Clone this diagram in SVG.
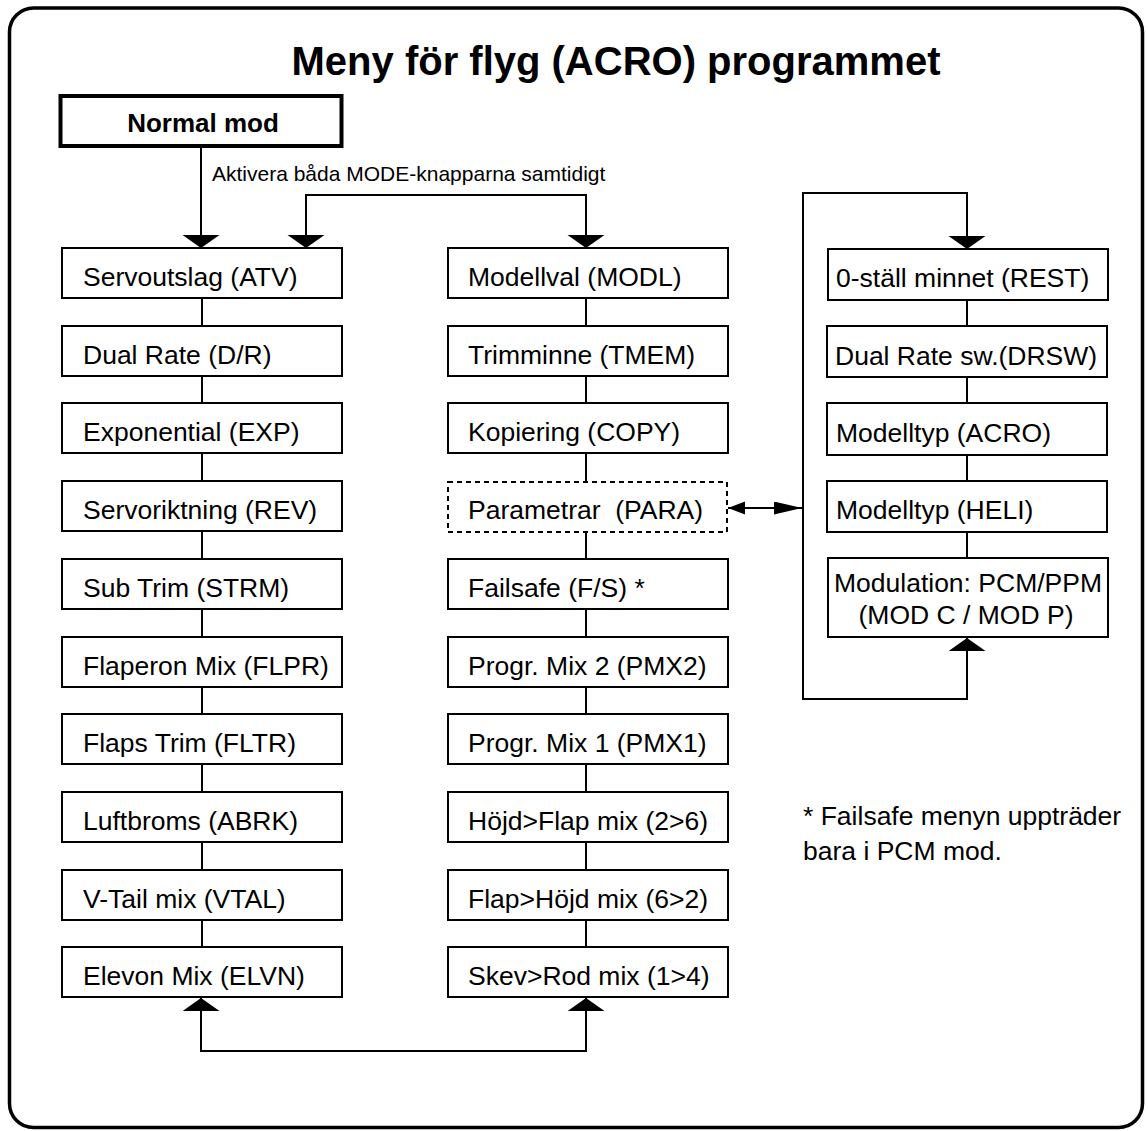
<svg xmlns="http://www.w3.org/2000/svg" width="1148" height="1131" viewBox="0 0 1148 1131">
<defs>
<style>
.frame{fill:none;stroke:#000;stroke-width:3.5}
.box{fill:#fff;stroke:#000;stroke-width:2}
.bold{fill:#fff;stroke:#000;stroke-width:4}
.dash{fill:#fff;stroke:#000;stroke-width:2;stroke-dasharray:5 4}
.t{font-family:"Liberation Sans",Arial,Helvetica,sans-serif;font-size:26.5px;fill:#000;white-space:pre}
.c{text-anchor:middle}
.title{font-family:"Liberation Sans",Arial,Helvetica,sans-serif;font-size:40px;font-weight:bold;text-anchor:middle;fill:#000}
.nb{font-family:"Liberation Sans",Arial,Helvetica,sans-serif;font-size:26px;font-weight:bold;text-anchor:middle;fill:#000}
.lbl{font-family:"Liberation Sans",Arial,Helvetica,sans-serif;font-size:21px;fill:#000}
.ln{fill:none;stroke:#000;stroke-width:2}
.arr{fill:none;stroke:#000;stroke-width:2;marker-end:url(#ah)}
.arr2{fill:none;stroke:#000;stroke-width:2;marker-start:url(#ah);marker-end:url(#ah)}
.dbl{fill:none;stroke:#000;stroke-width:2;marker-start:url(#ahL);marker-end:url(#ahR)}
</style>
<marker id="ah" markerUnits="userSpaceOnUse" markerWidth="14" markerHeight="38" refX="13" refY="18.5" orient="auto-start-reverse" viewBox="0 0 14 38">
<path d="M0,0 L13,18.5 L0,37 Z" fill="#000"/>
</marker>
<marker id="ahL" markerUnits="userSpaceOnUse" markerWidth="18" markerHeight="14" refX="17" refY="6.5" orient="auto-start-reverse" viewBox="0 0 18 14">
<path d="M0,0 L17,6.5 L0,13 Z" fill="#000"/>
</marker>
<marker id="ahR" markerUnits="userSpaceOnUse" markerWidth="29" markerHeight="14" refX="28" refY="6.5" orient="auto" viewBox="0 0 29 14">
<path d="M0,0 L28,6.5 L0,13 Z" fill="#000"/>
</marker>
</defs>
<rect width="1148" height="1131" fill="#fff"/>
<rect class="frame" x="9.5" y="8" width="1133" height="1119.5" rx="24" ry="24"/>
<text class="title" x="616" y="75">Meny för flyg (ACRO) programmet</text>
<text class="lbl" x="212" y="181">Aktivera båda MODE-knapparna samtidigt</text>
<text class="t" x="803" y="825">* Failsafe menyn uppträder</text>
<text class="t" x="803" y="860">bara i PCM mod.</text>

<g id="connectors">
<path class="arr" d="M201,148 V248"/>
<path class="arr2" d="M306,248 V195 H586 V248"/>
<path class="arr2" d="M201,998 V1051 H586 V998"/>
<path class="arr2" d="M967,638 V699 H803 V193 H967 V249"/>
<path class="dbl" d="M728,508 H802"/>
<path class="ln" d="M202,298 V326 M202,376 V403 M202,453 V481 M202,531 V559 M202,609 V637 M202,687 V714 M202,764 V792 M202,842 V870 M202,920 V947"/>
<path class="ln" d="M586,298 V326 M586,376 V403 M586,453 V481 M586,531 V559 M586,609 V637 M586,687 V714 M586,764 V792 M586,842 V870 M586,920 V947"/>
<path class="ln" d="M967,300 V326 M967,377 V403 M967,455 V481 M967,532 V558"/>
</g>

<g id="normal-mod"><rect class="bold" x="60.5" y="96" width="281" height="50"/><text class="nb" x="203" y="132">Normal mod</text></g>

<g id="atv"><rect class="box" x="62" y="248" width="280" height="50"/><text class="t" x="83" y="286">Servoutslag (ATV)</text></g>
<g id="dr"><rect class="box" x="62" y="326" width="280" height="50"/><text class="t" x="83" y="364">Dual Rate (D/R)</text></g>
<g id="exp"><rect class="box" x="62" y="403" width="280" height="50"/><text class="t" x="83" y="441">Exponential (EXP)</text></g>
<g id="rev"><rect class="box" x="62" y="481" width="280" height="50"/><text class="t" x="83" y="519">Servoriktning (REV)</text></g>
<g id="strm"><rect class="box" x="62" y="559" width="280" height="50"/><text class="t" x="83" y="597">Sub Trim (STRM)</text></g>
<g id="flpr"><rect class="box" x="62" y="637" width="280" height="50"/><text class="t" x="83" y="675">Flaperon Mix (FLPR)</text></g>
<g id="fltr"><rect class="box" x="62" y="714" width="280" height="50"/><text class="t" x="83" y="752">Flaps Trim (FLTR)</text></g>
<g id="abrk"><rect class="box" x="62" y="792" width="280" height="50"/><text class="t" x="83" y="830">Luftbroms (ABRK)</text></g>
<g id="vtal"><rect class="box" x="62" y="870" width="280" height="50"/><text class="t" x="83" y="908">V-Tail mix (VTAL)</text></g>
<g id="elvn"><rect class="box" x="62" y="947" width="280" height="50"/><text class="t" x="83" y="985">Elevon Mix (ELVN)</text></g>

<g id="modl"><rect class="box" x="448" y="248" width="280" height="50"/><text class="t" x="468" y="286">Modellval (MODL)</text></g>
<g id="tmem"><rect class="box" x="448" y="326" width="280" height="50"/><text class="t" x="468" y="364">Trimminne (TMEM)</text></g>
<g id="copy"><rect class="box" x="448" y="403" width="280" height="50"/><text class="t" x="468" y="441">Kopiering (COPY)</text></g>
<g id="para"><rect class="dash" x="448" y="482" width="279" height="50"/><text class="t" x="468" y="519">Parametrar  (PARA)</text></g>
<g id="fs"><rect class="box" x="448" y="559" width="280" height="50"/><text class="t" x="468" y="597">Failsafe (F/S) *</text></g>
<g id="pmx2"><rect class="box" x="448" y="637" width="280" height="50"/><text class="t" x="468" y="675">Progr. Mix 2 (PMX2)</text></g>
<g id="pmx1"><rect class="box" x="448" y="714" width="280" height="50"/><text class="t" x="468" y="752">Progr. Mix 1 (PMX1)</text></g>
<g id="h2f"><rect class="box" x="448" y="792" width="280" height="50"/><text class="t" x="468" y="830">Höjd&gt;Flap mix (2&gt;6)</text></g>
<g id="f2h"><rect class="box" x="448" y="870" width="280" height="50"/><text class="t" x="468" y="908">Flap&gt;Höjd mix (6&gt;2)</text></g>
<g id="s2r"><rect class="box" x="448" y="947" width="280" height="50"/><text class="t" x="468" y="985">Skev&gt;Rod mix (1&gt;4)</text></g>

<g id="rest"><rect class="box" x="828" y="249" width="280" height="51"/><text class="t" x="836" y="287">0-ställ minnet (REST)</text></g>
<g id="drsw"><rect class="box" x="827" y="326" width="280" height="51"/><text class="t" x="835" y="365">Dual Rate sw.(DRSW)</text></g>
<g id="acro"><rect class="box" x="827" y="403" width="280" height="52"/><text class="t" x="836" y="442">Modelltyp (ACRO)</text></g>
<g id="heli"><rect class="box" x="827" y="481" width="280" height="51"/><text class="t" x="836" y="519">Modelltyp (HELI)</text></g>
<g id="mod"><rect class="box" x="828" y="558" width="280" height="79"/><text class="t c" x="968" y="592">Modulation: PCM/PPM</text><text class="t c" x="966" y="624">(MOD C / MOD P)</text></g>
</svg>
